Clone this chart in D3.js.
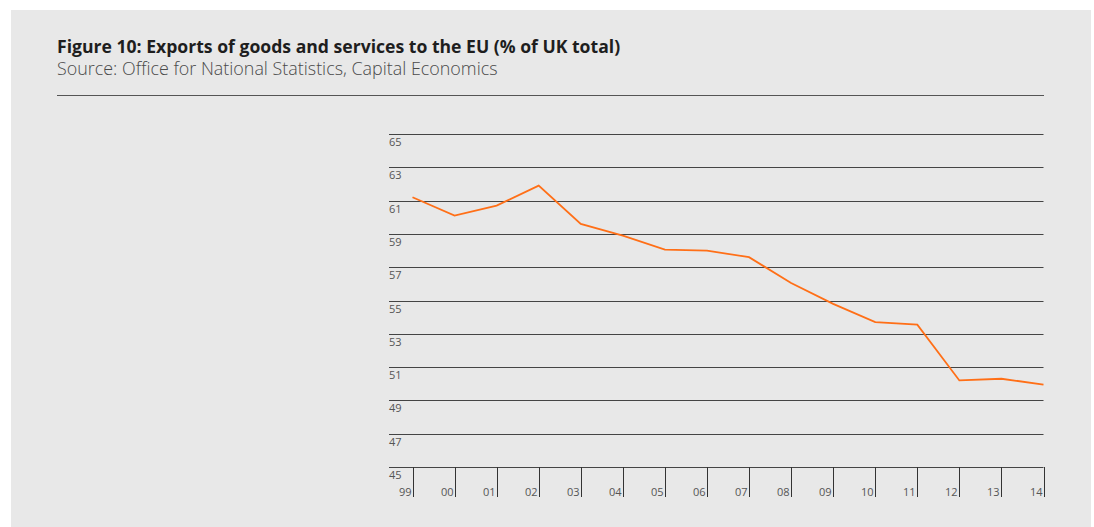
<!DOCTYPE html>
<html>
<head>
<meta charset="utf-8">
<script src="https://cdn.jsdelivr.net/npm/d3@7"></script>
<style>
  html, body { margin: 0; padding: 0; background: #ffffff; }
  svg { display: block; }
</style>
</head>
<body>
<svg id="chart" width="1094" height="527"></svg>
<script>
// Share of UK exports of goods and services going to the EU, 1999-2014
const years = ["99", "00", "01", "02", "03", "04", "05", "06", "07", "08", "09", "10", "11", "12", "13", "14"];
const euShare = [61.2, 60.1, 60.7, 61.9, 59.6, 58.9, 58.05, 58.0, 57.6, 56.05, 54.8, 53.7, 53.55, 50.2, 50.3, 49.95];
const yTicks = [45, 47, 49, 51, 53, 55, 57, 59, 61, 63, 65];

const titleText = "Figure 10: Exports of goods and services to the EU (% of UK total)";
const sourceText = "Source: Office for National Statistics, Capital Economics";

const svg = d3.select("#chart");
const font = "'Open Sans', 'DejaVu Sans', sans-serif";

// panel background
svg.append("rect")
  .attr("x", 11).attr("y", 10)
  .attr("width", 1080).attr("height", 517)
  .attr("fill", "#e8e8e8");

// heading
svg.append("text")
  .attr("x", 57).attr("y", 52.5)
  .attr("font-family", font).attr("font-weight", 700)
  .attr("font-size", 17.6).attr("fill", "#1e1e1e")
  .text(titleText);

svg.append("text")
  .attr("x", 57).attr("y", 75)
  .attr("font-family", font).attr("font-weight", 300)
  .attr("font-size", 17.9).attr("fill", "#4a4a4a")
  .text(sourceText);

svg.append("line")
  .attr("x1", 57).attr("x2", 1044)
  .attr("y1", 95.5).attr("y2", 95.5)
  .attr("stroke", "#555").attr("stroke-width", 1);

// scales
const gridLeft = 389, plotRight = 1043.5;
const x = d3.scalePoint().domain(years).range([412.5, 1043.5]);
const y = d3.scaleLinear().domain([45, 65]).range([467, 134]);

// horizontal gridlines with labels sitting just beneath
const grid = svg.append("g");
grid.selectAll("line").data(yTicks).join("line")
  .attr("x1", gridLeft).attr("x2", plotRight)
  .attr("y1", d => Math.round(y(d)) + 0.5)
  .attr("y2", d => Math.round(y(d)) + 0.5)
  .attr("stroke", "#444").attr("stroke-width", 1);

grid.selectAll("text").data(yTicks).join("text")
  .attr("x", gridLeft)
  .attr("y", d => Math.round(y(d)) + 11.5)
  .attr("font-family", font).attr("font-size", 11)
  .attr("fill", "#555")
  .text(d => d);

// x axis ticks hanging below the baseline
const xAxis = svg.append("g");
xAxis.selectAll("line").data(years).join("line")
  .attr("x1", d => Math.round(x(d)) + 0.5)
  .attr("x2", d => Math.round(x(d)) + 0.5)
  .attr("y1", y(45)).attr("y2", 497)
  .attr("stroke", "#333").attr("stroke-width", 1);

xAxis.selectAll("text").data(years).join("text")
  .attr("x", d => Math.round(x(d)) - 1.5)
  .attr("y", 496)
  .attr("text-anchor", "end")
  .attr("font-family", font).attr("font-size", 11)
  .attr("fill", "#555")
  .text(d => d);

// export share line
const line = d3.line()
  .x((d, i) => x(years[i]))
  .y(d => y(d));

svg.append("path")
  .datum(euShare)
  .attr("d", line)
  .attr("fill", "none")
  .attr("stroke", "#ff6f17")
  .attr("stroke-width", 1.8)
  .attr("stroke-linejoin", "miter");
</script>
</body>
</html>
